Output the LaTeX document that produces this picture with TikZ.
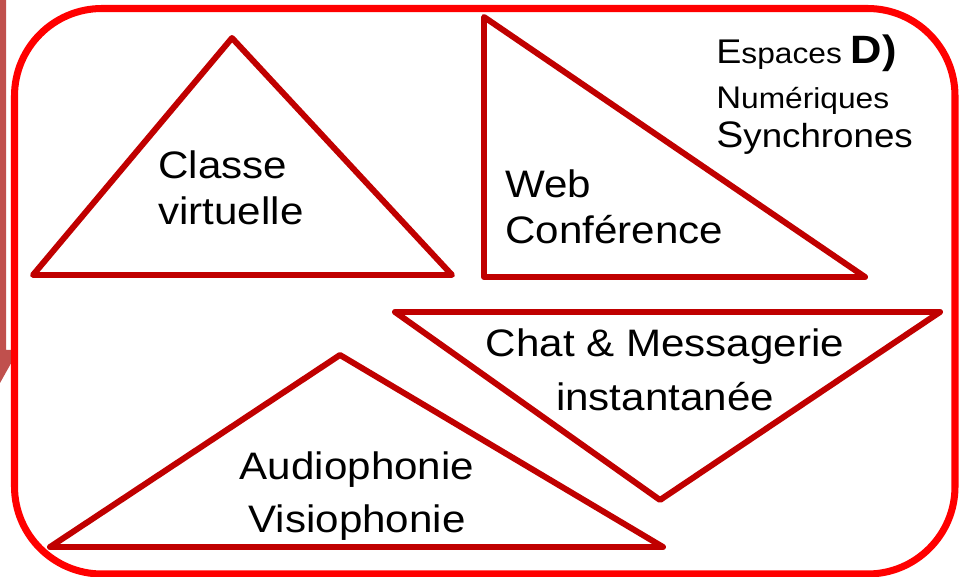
\documentclass[tikz,border=0pt]{standalone}
\usepackage{fontspec}
\setmainfont{Liberation Sans}[FakeStretch=1.1]
\definecolor{framered}{HTML}{FF0000}
\definecolor{trired}{HTML}{C00000}
\definecolor{stripred}{HTML}{C0504D}

\begin{document}
\begin{tikzpicture}[x=0.02cm, y=-0.02cm,
    tri/.style={draw=trired, line width=3.4pt, line join=round},
    lbl/.style={inner sep=0pt, font=\fontsize{21.8}{26.5}\selectfont},
    side/.style={inner sep=0pt, anchor=base west}]

    \useasboundingbox (0,0) rectangle (960,577);

    % Define text sizes of the side title
    \def\bigsz{\fontsize{19.5}{19.5}\selectfont}
    \def\smallsz{\fontsize{16.4}{16.4}\selectfont}

    % Draw the side strip
    \fill[stripred] (0,0) -- (6,0) -- (6,350) -- (14,350) -- (14,358) -- (0,383) -- cycle;

    % Draw the frame
    \draw[framered, line width=4pt, fill=white, rounded corners=1.75cm] (14.5,8.5) rectangle (955,574);

    % Draw the triangles
    \draw[tri] (232,38) -- (452,275) -- (33,275) -- cycle;
    \draw[tri] (484,17) -- (865,277) -- (484,277) -- cycle;
    \draw[tri] (395,312) -- (940,312) -- (660,500) -- cycle;
    \draw[tri] (340,355) -- (663,547) -- (50,547) -- cycle;

    % Labels of the triangles (base = last line)
    \node[lbl, anchor=base west, align=left] (classe) at (158,225) {Classe\\virtuelle};
    \node[lbl, anchor=base west, align=left] (web) at (505,244) {Web\\Conférence};
    \node[lbl, anchor=base, align=center] (chat) at (665,411) {Chat \& Messagerie\\[4.5pt]instantanée};
    \node[lbl, anchor=base, align=center] (audio) at (357,532) {Audiophonie\\[3.5pt]Visiophonie};

    % Side title
    \node[side] (espaces) at (716,64) {\bigsz E\smallsz spaces {\fontsize{22.5}{22.5}\selectfont\bfseries D)}};
    \node[side] (numeriques) at (716,109) {{\fontsize{17.8}{17.8}\selectfont N}\smallsz umériques};
    \node[side] (synchrones) at (716,148) {{\fontsize{21}{21}\selectfont S}{\fontsize{19}{19}\selectfont ynchrones}};
\end{tikzpicture}
\end{document}
